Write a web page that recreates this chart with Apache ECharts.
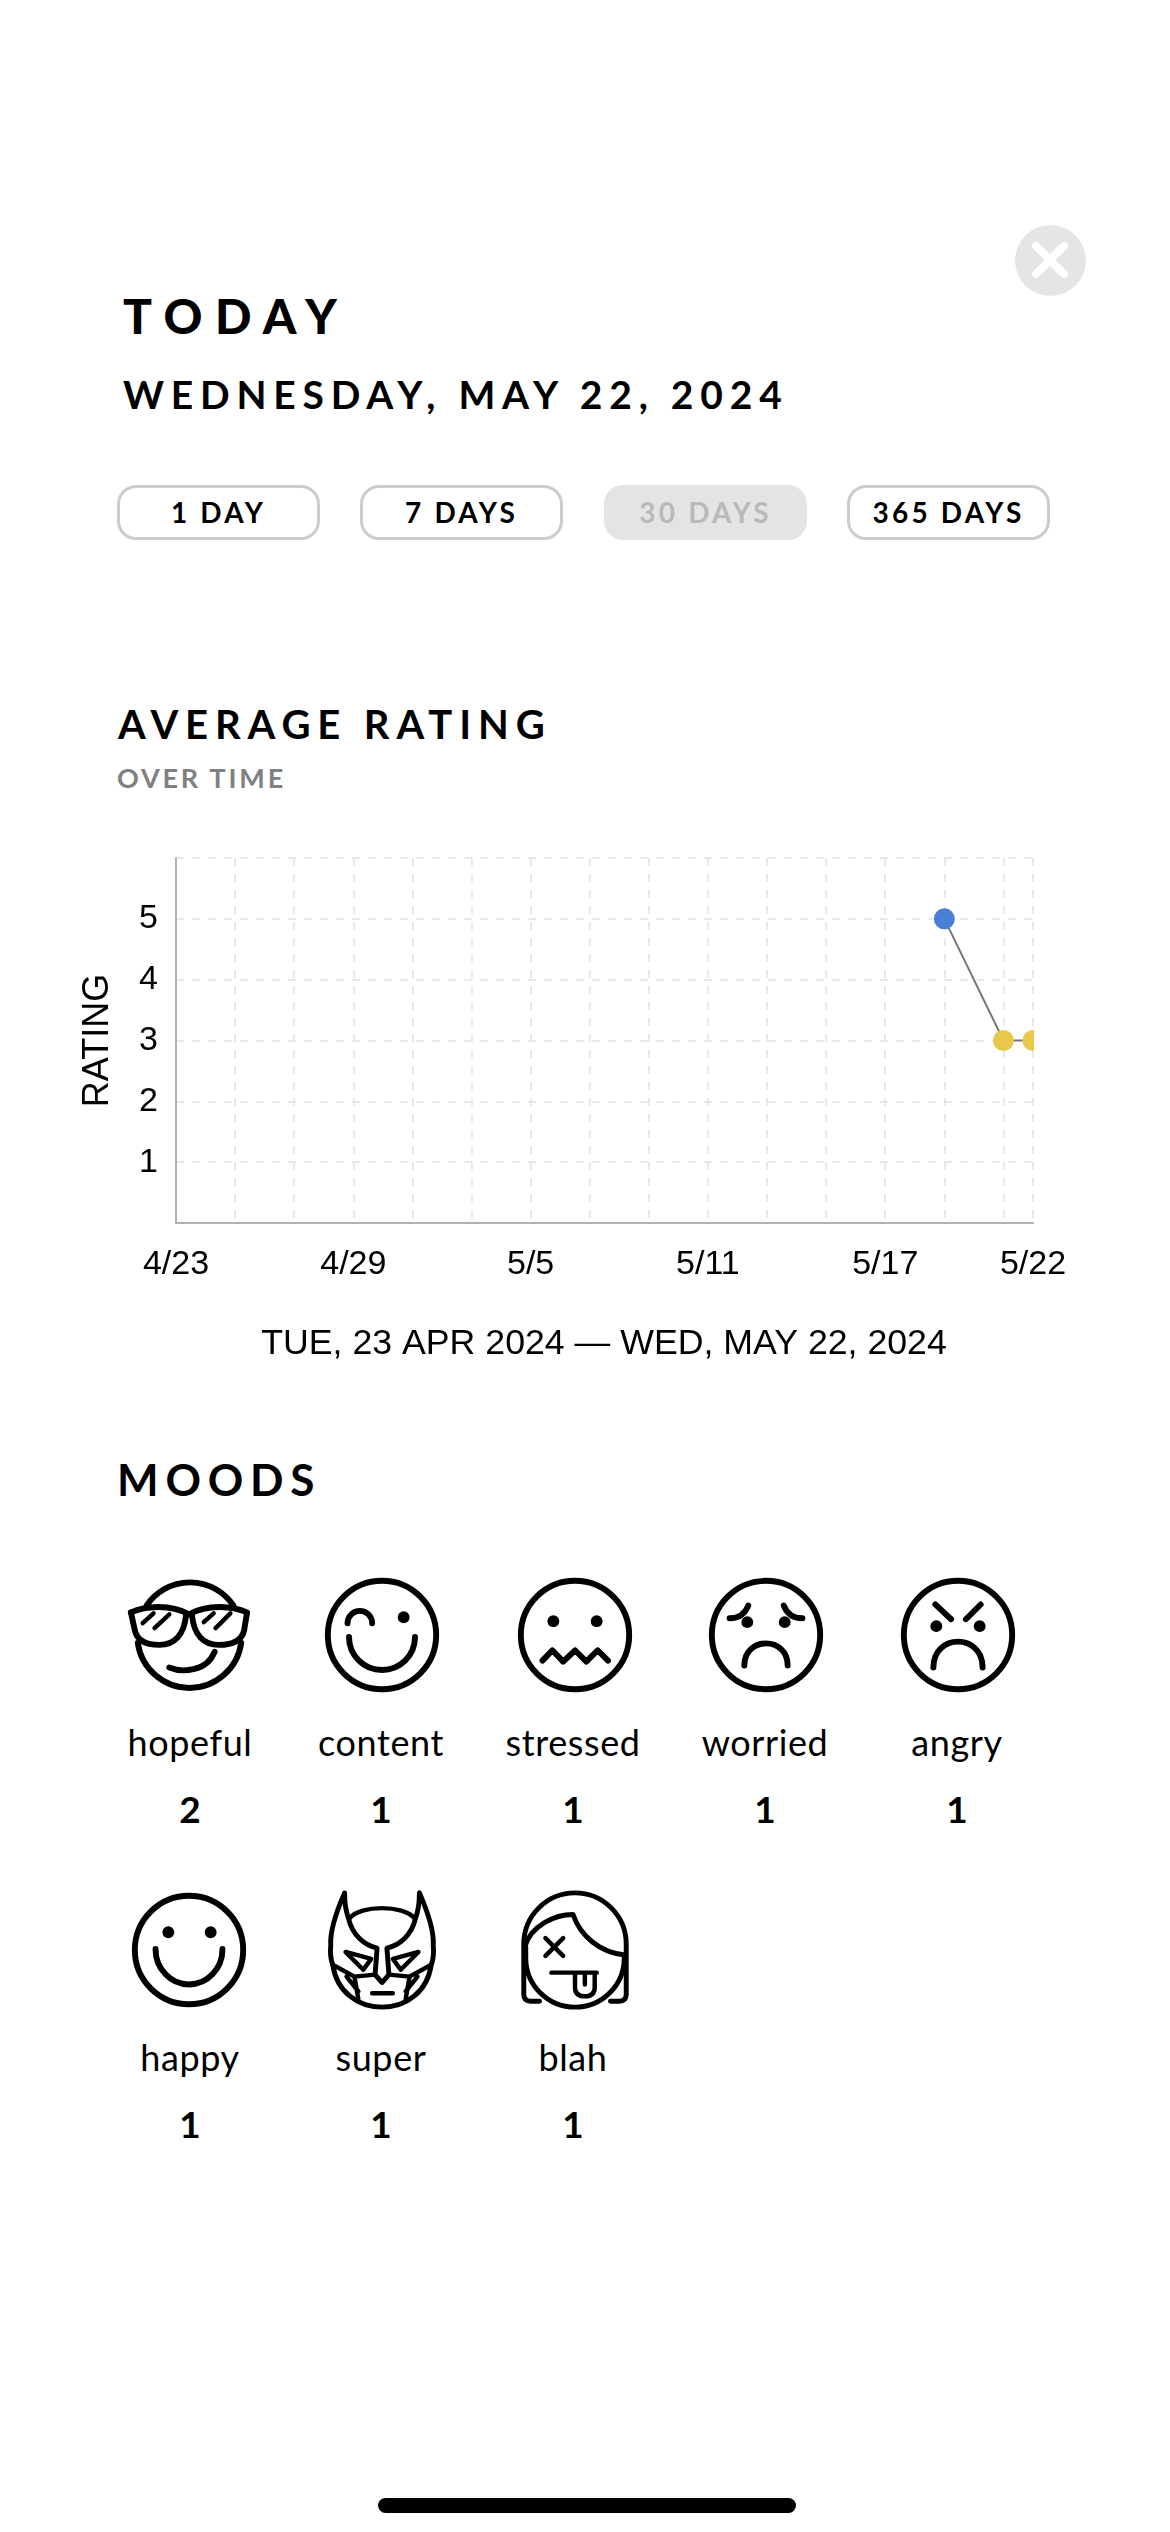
<!DOCTYPE html>
<html>
<head>
<meta charset="utf-8">
<title>Today</title>
<script src="https://cdn.jsdelivr.net/npm/echarts@6/dist/echarts.min.js"></script>
<style>
  html, body { margin: 0; padding: 0; background: #fff; }
  #page { position: relative; width: 1170px; height: 2532px; overflow: hidden; font-family: Lato, "Open Sans", sans-serif; color: #000; }
  #page > div { position: absolute; white-space: nowrap; line-height: 1; }
  .btn { top: 485px; width: 203px; height: 55px; box-sizing: border-box; border: 3px solid #cccccc; border-radius: 19px;
         font-size: 28px; font-weight: 700; letter-spacing: 3.2px; line-height: 49px !important; text-align: center; }
  .btn.on { background: #e4e4e4; border-color: #e4e4e4; color: #b9b9b9; }
  .mood-name { width: 190px; text-align: center; font-size: 36px; letter-spacing: 0.6px; }
  .mood-count { width: 190px; text-align: center; font-size: 37px; font-weight: 700; }
  svg.icon { position: absolute; overflow: visible; transform: scale(0.985); transform-origin: 0 0; }
  svg.icon * { fill: none; stroke: #000; stroke-width: 6; stroke-linecap: round; stroke-linejoin: round; }
  svg.icon .dot { fill: #000; stroke: none; }
</style>
</head>
<body>
<div id="page">
  <div style="left:1015px;top:225px;width:71px;height:71px;border-radius:50%;background:#e5e5e5"></div>
  <svg class="icon" style="left:1050px;top:260px;transform:none" width="1" height="1"><path d="M-14 -14L14 14M14 -14L-14 14" style="stroke:#fff;stroke-width:8"/></svg>
  <div style="left:123px;top:292px;font-size:48px;font-weight:900;letter-spacing:12.5px">TODAY</div>
  <div style="left:123px;top:375px;font-size:39px;font-weight:700;letter-spacing:6.8px">WEDNESDAY, MAY 22, 2024</div>
  <div class="btn" style="left:117px">1 DAY</div>
  <div class="btn" style="left:360px">7 DAYS</div>
  <div class="btn on" style="left:604px">30 DAYS</div>
  <div class="btn" style="left:847px">365 DAYS</div>
  <div style="left:118px;top:704px;font-size:40px;font-weight:700;letter-spacing:6.9px">AVERAGE RATING</div>
  <div style="left:117px;top:764px;font-size:27px;font-weight:700;letter-spacing:2.8px;color:#808080">OVER TIME</div>
  <div id="chart" style="left:0;top:800px;width:1170px;height:600px"></div>
  <div style="left:117px;top:1457px;font-size:44px;font-weight:700;letter-spacing:6.8px">MOODS</div>
  <div style="left:378px;top:2498px;width:418px;height:15px;border-radius:8px;background:#000"></div>
</div>

<script>
// chart data
var dates = ['4/23','4/24','4/25','4/26','4/27','4/28','4/29','4/30','5/1','5/2','5/3','5/4','5/5','5/6','5/7',
  '5/8','5/9','5/10','5/11','5/12','5/13','5/14','5/15','5/16','5/17','5/18','5/19','5/20','5/21','5/22'];
var ratings = [null,null,null,null,null,null,null,null,null,null,null,null,null,null,null,
  null,null,null,null,null,null,null,null,null,null,null,5,null,3,3];
var ratingColors = { 5: '#4a7fd6', 3: '#e8c84a' };

// moods
var moodNames = ['hopeful','content','stressed','worried','angry','happy','super','blah'];
var moodCounts = [2,1,1,1,1,1,1,1];
var moodIcons = {
  hopeful: '<path d="M-43 -30A53 53 0 0 1 45 -30M-52 8A53 53 0 0 0 53 8"/>' +
    '<path d="M-59 -23C-45 -29 -20 -32 0 -21C20 -32 45 -29 59 -23L56 -5C54 5 45 10 30 10C15 10 5 0 3 -20"/>' +
    '<path d="M-59 -23L-55 -5C-53 5 -45 10 -30 10C-15 10 -5 0 -3 -20"/>' +
    '<path d="M-47 -12L-36 -22M-35 -7L-20 -21M15 -13L25 -22M27 -7L42 -22" style="stroke-width:4.5"/>' +
    '<path d="M-20 33C-8 38 18 38 26 17"/>',
  content: '<circle r="55"/><path d="M-35 -12A12.5 12.5 0 0 1 -10 -12M-33.5 2A33.5 33.5 0 0 0 33.5 2"/><circle class="dot" cx="22" cy="-18" r="6"/>',
  stressed: '<circle r="55"/><circle class="dot" cx="-22" cy="-14" r="6"/><circle class="dot" cx="22" cy="-14" r="6"/>' +
    '<path d="M-33 26L-23 15.5L-12 27L0 15.5L11.5 27L23 15.5L33.5 26"/>',
  worried: '<circle r="55"/><path d="M-37 -17Q-23 -17 -18 -30M18 -30Q23 -17 37 -17M-22 31C-22 1 22 1 22 31"/>' +
    '<circle class="dot" cx="-19" cy="-13" r="6"/><circle class="dot" cx="19" cy="-13" r="6"/>',
  angry: '<circle r="55"/><path d="M-23 -31L-7 -16M23 -31L8 -16M-25 33C-25 -2 25 -2 25 33"/>' +
    '<circle class="dot" cx="-22" cy="-9" r="6"/><circle class="dot" cx="22" cy="-9" r="6"/>',
  happy: '<circle r="55"/><circle class="dot" cx="-21" cy="-18" r="6"/><circle class="dot" cx="22" cy="-18" r="6"/>' +
    '<path d="M-34 -1A34 36 0 0 0 34 -1"/>',
  super: '<path d="M-38 -58C-48 -35 -53 -18 -52 -5C-53 5 -52 10 -50 15C-46 42 -25 58 0 58C25 58 46 42 50 15C52 10 53 5 52 -5C53 -18 48 -35 38 -58C38 -48 37 -40 34 -32C30 -15 18 -5 5 -2L7 25L0 33L-7 25L-5 -2C-18 -5 -30 -15 -34 -32C-37 -40 -38 -48 -38 -58Z" style="stroke-width:5"/>' +
    '<path d="M-33 -32C-22 -46 22 -46 33 -32M-37 2L-11 9L-19 20ZM37 2L11 9L19 20ZM-50 15L-28 27L-7 25M50 15L28 27L7 25M-28 27L-24 50M28 27L24 50M-36 27L-24 42M36 27L24 42M-10 44L11 44" style="stroke-width:4.5"/>',
  blah: '<path d="M-36 52L-45 52Q-52 52 -52 45L-52 -6A52 52 0 0 1 52 -6L52 45Q52 52 45 52L36 52" style="stroke-width:5"/>' +
    '<path d="M-51 -3C-45 -25 -20 -36 -2 -36C5 -15 25 3 51 5M-50 -3L-50 8A50 50 0 0 0 50 8L50 5" style="stroke-width:5"/>' +
    '<path d="M-30 -12L-12 6M-12 -12L-30 6M-24 23L22 23M0 25L0 38Q0 47 10 47Q20 47 20 38L20 25M10 25L10 35" style="stroke-width:4.5"/>'
};

var iconCols = [189, 382, 575, 766, 958];
var textCols = [190, 381, 573, 765, 957];
var moodRows = [
  { icon: 1635, name: 1724, count: 1790 },
  { icon: 1950, name: 2039, count: 2105 }
];
var page = document.getElementById('page');
moodNames.forEach(function (name, i) {
  var col = i % 5;
  var row = moodRows[Math.floor(i / 5)];
  var icon = document.createElementNS('http://www.w3.org/2000/svg', 'svg');
  icon.setAttribute('class', 'icon');
  icon.setAttribute('width', 1);
  icon.setAttribute('height', 1);
  icon.style.left = iconCols[col] + 'px';
  icon.style.top = row.icon + 'px';
  icon.innerHTML = moodIcons[name];
  page.appendChild(icon);
  var label = document.createElement('div');
  label.className = 'mood-name';
  label.textContent = name;
  label.style.left = (textCols[col] - 95) + 'px';
  label.style.top = row.name + 'px';
  page.appendChild(label);
  var count = document.createElement('div');
  count.className = 'mood-count';
  count.textContent = moodCounts[i];
  count.style.left = (textCols[col] - 95) + 'px';
  count.style.top = row.count + 'px';
  page.appendChild(count);
});

var chart = echarts.init(document.getElementById('chart'));
var lastIndex = dates.length - 1;
var gridLine = { show: true, lineStyle: { color: '#e2e2e2', width: 1.5, type: [8, 8] } };
var option = {
  animation: false,
  grid: { left: 176, right: 137, top: 58, height: 365, containLabel: false },
  title: {
    text: 'TUE, 23 APR 2024 \u2014 WED, MAY 22, 2024',
    left: 599, top: 521, textAlign: 'center',
    textStyle: { fontFamily: '"Liberation Sans"', fontSize: 35.7, fontWeight: 'normal', color: '#000' }
  },
  xAxis: {
    type: 'category',
    boundaryGap: false,
    data: dates,
    axisLine: { lineStyle: { color: '#b0b0b0', width: 2 } },
    axisTick: { show: false },
    axisLabel: {
      interval: function (i) { return i % 6 === 0 || i === lastIndex; },
      margin: 25, fontFamily: '"Liberation Sans"', fontSize: 34, color: '#000'
    },
    splitLine: Object.assign({ interval: function (i) { return i % 2 === 0 || i === lastIndex; } }, gridLine)
  },
  yAxis: {
    type: 'value',
    min: 0, max: 6, interval: 1,
    name: 'RATING',
    nameLocation: 'middle',
    nameGap: 60,
    nameTextStyle: { fontFamily: '"Liberation Sans"', fontSize: 36, color: '#000' },
    axisLine: { show: true, lineStyle: { color: '#b0b0b0', width: 2 } },
    axisTick: { show: false },
    axisLabel: {
      showMinLabel: false, showMaxLabel: false,
      margin: 18, fontFamily: '"Liberation Sans"', fontSize: 34, color: '#000'
    },
    splitLine: gridLine
  },
  series: [{
    type: 'line',
    data: ratings,
    connectNulls: true,
    showAllSymbol: true,
    symbol: 'circle',
    symbolSize: 21,
    lineStyle: { color: '#777777', width: 2 },
    itemStyle: { color: function (p) { return ratingColors[p.value] || '#999'; } },
    z: 3
  }]
};
chart.setOption(option);

// the last point is cut by the plot edge in the app
var edge = chart.convertToPixel({ xAxisIndex: 0 }, lastIndex);
var mid = chart.convertToPixel({ yAxisIndex: 0 }, ratings[lastIndex]);
chart.setOption({
  graphic: [{
    type: 'rect', z: 100,
    shape: { x: edge + 1, y: mid - 14, width: 14, height: 28 },
    style: { fill: '#fff' }
  }]
});
</script>
</body>
</html>
